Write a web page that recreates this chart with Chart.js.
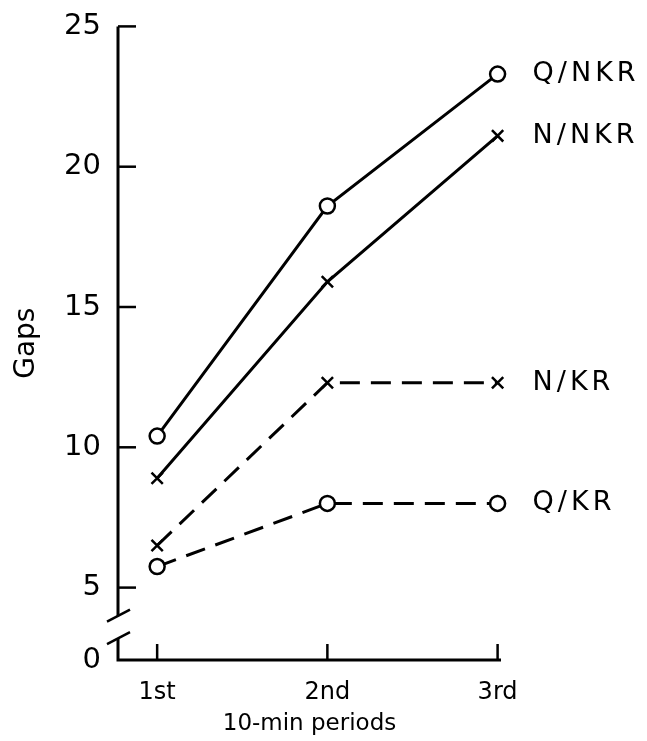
<!DOCTYPE html>
<html>
<head>
<meta charset="utf-8">
<script src="https://cdn.jsdelivr.net/npm/chart.js@4"></script>
<style>
  html, body { margin: 0; padding: 0; background: #fff; }
  canvas { display: block; }
</style>
</head>
<body>
<canvas id="gapsChart" width="647" height="741"></canvas>
<script>
// values
const periods = ['1st', '2nd', '3rd'];
const seriesNames = ['Q/NKR', 'N/NKR', 'N/KR', 'Q/KR'];
const qNkr = [10.4, 18.6, 23.3];
const nNkr = [8.9, 15.9, 21.1];
const nKr = [6.5, 12.3, 12.3];
const qKr = [5.75, 8.0, 8.0];
const yTicks = [0, 5, 10, 15, 20, 25];

// axis is broken between 0 and 5, the "0" label sits at the bottom of the drawn range
const yBottom = 2.42;
const yBreak = [4.0, 3.2];

const FONT = '"DejaVu Sans", sans-serif';

function toPoints(values) {
    return values.map((v, i) => ({ x: i + 1, y: v }));
}

function makeSeries(label, values, marker, dashed) {
    return {
        label: label,
        data: toPoints(values),
        borderColor: '#000',
        borderWidth: 3,
        borderDash: dashed ? [20, 11] : [],
        pointStyle: marker,
        pointRadius: marker === 'circle' ? 7.5 : 8,
        pointBorderWidth: 2.5,
        pointBorderColor: '#000',
        pointBackgroundColor: '#fff',
        tension: 0,
        fill: false,
        clip: false
    };
}

// axis lines, break marks, inward ticks and the series names at the right
const axisDecor = {
    id: 'axisDecor',
    afterDraw(chart) {
        const ctx = chart.ctx;
        const a = chart.chartArea;
        const x = chart.scales.x;
        const y = chart.scales.y;
        ctx.save();
        ctx.strokeStyle = '#000';
        ctx.lineCap = 'butt';

        const yb1 = y.getPixelForValue(yBreak[0]);
        const yb2 = y.getPixelForValue(yBreak[1]);
        ctx.lineWidth = 3;
        ctx.beginPath();
        ctx.moveTo(a.left, a.top);
        ctx.lineTo(a.left, yb1);
        ctx.moveTo(a.left, yb2);
        ctx.lineTo(a.left, a.bottom);
        ctx.lineTo(a.right, a.bottom);
        ctx.stroke();

        ctx.lineWidth = 2.5;
        [yb1, yb2].forEach(py => {
            ctx.beginPath();
            ctx.moveTo(a.left - 11, py + 6);
            ctx.lineTo(a.left + 12, py - 6);
            ctx.stroke();
        });

        yTicks.slice(1).forEach(v => {
            const py = y.getPixelForValue(v);
            ctx.beginPath();
            ctx.moveTo(a.left, py);
            ctx.lineTo(a.left + 18, py);
            ctx.stroke();
        });
        periods.forEach((p, i) => {
            const px = x.getPixelForValue(i + 1);
            ctx.beginPath();
            ctx.moveTo(px, a.bottom);
            ctx.lineTo(px, a.bottom - 16);
            ctx.stroke();
        });

        ctx.fillStyle = '#000';
        ctx.font = '27px ' + FONT;
        ctx.letterSpacing = '4px';
        ctx.textAlign = 'left';
        ctx.textBaseline = 'middle';
        chart.data.datasets.forEach((ds, i) => {
            const pts = chart.getDatasetMeta(i).data;
            const last = pts[pts.length - 1];
            ctx.fillText(ds.label, last.x + 35, last.y);
        });
        ctx.restore();
    }
};

const ctx = document.getElementById('gapsChart').getContext('2d');
const gapsChart = new Chart(ctx, {
    type: 'line',
    data: {
        datasets: [
            makeSeries(seriesNames[0], qNkr, 'circle', false),
            makeSeries(seriesNames[1], nNkr, 'crossRot', false),
            makeSeries(seriesNames[2], nKr, 'crossRot', true),
            makeSeries(seriesNames[3], qKr, 'circle', true)
        ]
    },
    options: {
        responsive: false,
        animation: false,
        layout: {
            padding: { top: 22, right: 146, left: 0, bottom: 0 }
        },
        plugins: {
            legend: { display: false },
            tooltip: { enabled: false }
        },
        scales: {
            x: {
                type: 'linear',
                min: 0.77,
                max: 3.02,
                afterBuildTicks: function(scale) {
                    scale.ticks = periods.map((p, i) => ({ value: i + 1 }));
                },
                afterFit: function(scale) {
                    scale.height = 81;
                },
                grid: { display: false },
                border: { display: false },
                ticks: {
                    color: '#000',
                    padding: 10,
                    maxRotation: 0,
                    font: { family: FONT, size: 24 },
                    callback: function(value) {
                        return periods[Math.round(value) - 1];
                    }
                },
                title: {
                    display: true,
                    text: '10-min periods',
                    color: '#000',
                    font: { family: FONT, size: 23 },
                    padding: { top: 0, bottom: 3 }
                }
            },
            y: {
                min: yBottom,
                max: 25,
                afterBuildTicks: function(scale) {
                    scale.ticks = yTicks.map(v => ({ value: v === 0 ? yBottom : v }));
                },
                afterFit: function(scale) {
                    scale.width = 118;
                },
                grid: { display: false },
                border: { display: false },
                ticks: {
                    color: '#000',
                    padding: 9,
                    font: { family: FONT, size: 29 },
                    callback: function(value) {
                        return value === yBottom ? '0' : value;
                    }
                },
                title: {
                    display: true,
                    text: 'Gaps',
                    color: '#000',
                    font: { family: FONT, size: 28 },
                    padding: { top: 10, bottom: 0 }
                }
            }
        }
    },
    plugins: [axisDecor]
});
</script>
</body>
</html>
